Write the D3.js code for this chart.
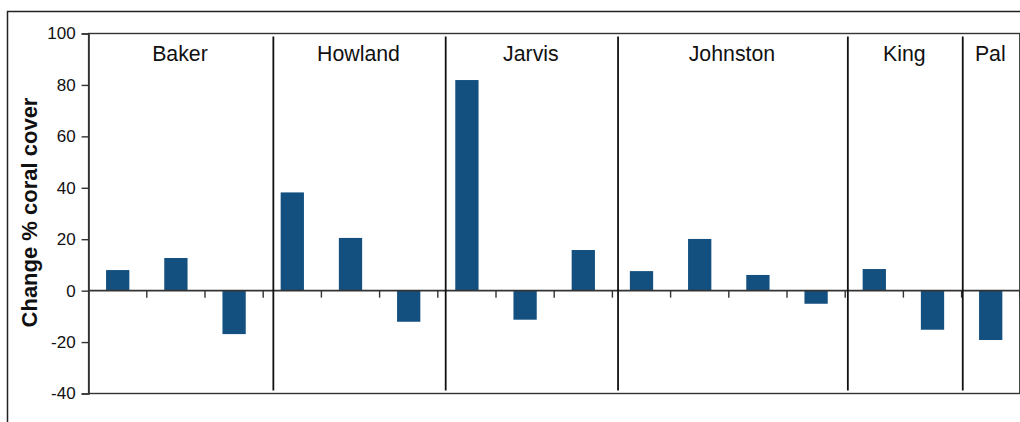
<!DOCTYPE html>
<html>
<head>
<meta charset="utf-8">
<script src="https://cdn.jsdelivr.net/npm/d3@7"></script>
<style>
  html, body { margin: 0; padding: 0; background: #fff; }
  svg { display: block; }
  text { font-family: "Liberation Sans", Arial, Helvetica, sans-serif; fill: #111; }
</style>
</head>
<body>
<svg id="chart" width="1020" height="422"></svg>
<script>
const groups = ["Baker", "Howland", "Jarvis", "Johnston", "King", "Pal"];
const groupSizes = [3, 3, 3, 4, 2, 1];
const values = [8.0, 12.7, -16.9, 38.2, 20.5, -12.1, 81.9, -11.3, 15.8, 7.6, 20.1, 6.1, -5.1, 8.4, -15.2, -19.2];
const yTicks = [-40, -20, 0, 20, 40, 60, 80, 100];
const yTitle = "Change % coral cover";

(function () {
const W = 1020, H = 422;
const mLeft = 88.6, mRight = 1019.8, mTop = 33.5, mBottom = 393.5;
const barColor = "#14507f";

const svg = d3.select("#chart");
svg.append("rect").attr("width", W).attr("height", H).attr("fill", "#fff");

// outer frame (cropped at right and bottom)
svg.append("rect")
  .attr("x", 7.5).attr("y", 11.5).attr("width", 1100).attr("height", 600)
  .attr("fill", "none").attr("stroke", "#222").attr("stroke-width", 1.5);

const x = d3.scaleBand()
  .domain(d3.range(values.length))
  .range([mLeft, mRight])
  .paddingInner(0.6).paddingOuter(0.3);
const step = x.step();

const y = d3.scaleLinear().domain([-40, 100]).range([mBottom, mTop]);

// plot frame
svg.append("rect")
  .attr("x", mLeft).attr("y", mTop).attr("width", mRight - mLeft).attr("height", mBottom - mTop)
  .attr("fill", "none").attr("stroke", "#333").attr("stroke-width", 1.4);

// y axis
const yAxis = d3.axisLeft(y).tickValues(yTicks).tickSize(7).tickPadding(6).tickFormat(d => String(d));
const gy = svg.append("g").attr("transform", `translate(${mLeft},0)`).call(yAxis);
gy.select(".domain").attr("stroke", "#333").attr("stroke-width", 1.4);
gy.selectAll(".tick line").attr("stroke", "#333").attr("stroke-width", 1.4);
gy.selectAll(".tick text")
  .attr("font-size", 17).attr("fill", "#111")
  .style("font-family", '"Liberation Sans", Arial, sans-serif');

// bars
svg.append("g").selectAll("rect")
  .data(values)
  .join("rect")
  .attr("x", (d, i) => x(i))
  .attr("width", x.bandwidth())
  .attr("y", d => y(Math.max(0, d)))
  .attr("height", d => Math.abs(y(d) - y(0)))
  .attr("fill", barColor);

// zero line
svg.append("line")
  .attr("x1", mLeft).attr("x2", mRight)
  .attr("y1", y(0)).attr("y2", y(0))
  .attr("stroke", "#333").attr("stroke-width", 1.7);

// category ticks at band boundaries (below zero line)
const boundaries = d3.range(1, values.length + 1).map(i => mLeft + i * step);
svg.append("g").selectAll("line")
  .data(boundaries)
  .join("line")
  .attr("x1", d => d).attr("x2", d => d)
  .attr("y1", y(0)).attr("y2", y(0) + 7)
  .attr("stroke", "#333").attr("stroke-width", 1.4);

// group separators
const cum = Array.from(d3.cumsum(groupSizes));
const sepScale = d3.scaleLinear().domain([0, values.length]).range([101, 1020.2]);
const seps = cum.slice(0, -1).map(c => sepScale(c));
svg.append("g").selectAll("line")
  .data(seps)
  .join("line")
  .attr("x1", d => d).attr("x2", d => d)
  .attr("y1", mTop + 3).attr("y2", mBottom - 3)
  .attr("stroke", "#111").attr("stroke-width", 1.8);

// group labels
const bounds = [mLeft, ...seps, mRight];
svg.append("g").selectAll("text")
  .data(groups)
  .join("text")
  .attr("x", (d, i) => (bounds[i] + bounds[i + 1]) / 2 - 1)
  .attr("y", 61)
  .attr("text-anchor", "middle")
  .attr("font-size", 21.3)
  .text(d => d);

// y title
svg.append("text")
  .attr("transform", "translate(37,212.5) rotate(-90)")
  .attr("text-anchor", "middle")
  .attr("font-size", 22)
  .attr("font-weight", "bold")
  .text(yTitle);
})();
</script>
</body>
</html>
